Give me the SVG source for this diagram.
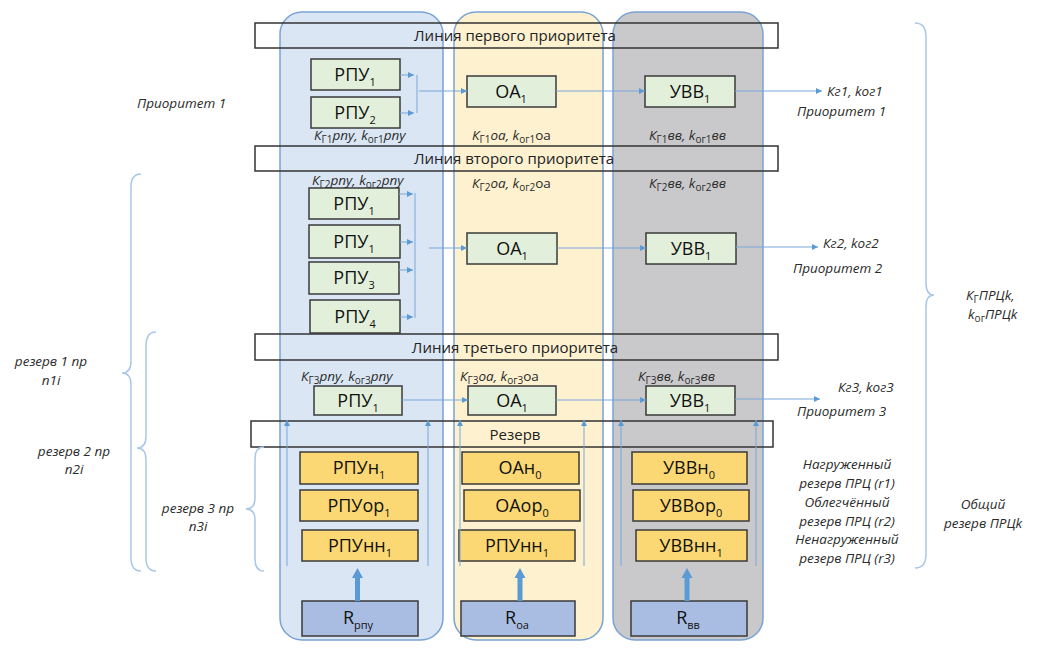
<svg xmlns="http://www.w3.org/2000/svg" width="1045" height="648" viewBox="0 0 1045 648">
  <defs>
    <marker id="ah" viewBox="0 0 10 10" refX="10" refY="5" markerWidth="7" markerHeight="6" markerUnits="userSpaceOnUse" orient="auto">
      <path d="M0,0 L10,5 L0,10 z" fill="#5b9bd5"/>
    </marker>
    <style>
      .col { stroke: #7aa3d6; stroke-width: 1.5; }
      .c-blue { fill: #dae6f4; }
      .c-yel { fill: #fdf1d0; }
      .c-gray { fill: #c9c8ca; }
      .bar { fill: none; stroke: #333; stroke-width: 1.5; }
      .bt { font-family: "Open Sans", "Liberation Sans", sans-serif; font-size: 15px; fill: #222; text-anchor: middle; }
      .box { stroke: #3a3a3a; stroke-width: 1.5; }
      .g { fill: #e2efda; }
      .o { fill: #fbd873; }
      .r { fill: #a9bde2; }
      .lb { font-family: "Open Sans", "Liberation Sans", sans-serif; font-size: 18px; fill: #111; text-anchor: middle; }
      .sub { font-size: 11px; }
      .it { font-family: "Open Sans", "Liberation Sans", sans-serif; font-style: italic; font-size: 13.5px; fill: #2b2b2b; }
      .itc { text-anchor: middle; }
      .k { font-family: "Open Sans", "Liberation Sans", sans-serif; font-style: italic; font-size: 13.5px; fill: #2b2b2b; }
      .ks { font-size: 10px; font-style: normal; }
      .up { font-style: normal; }
      .link { stroke: #7aa7db; stroke-width: 1; fill: none; }
      .brace { stroke: #a9c7e8; stroke-width: 1.5; fill: none; }
      .thick { fill: #5b9bd5; }
    </style>
  </defs>

  <!-- subsystem columns -->
  <g id="columns">
    <rect id="col-rpu" class="col c-blue" x="280" y="12" width="163" height="628" rx="22"/>
    <rect id="col-oa" class="col c-yel" x="454" y="12" width="149" height="628" rx="22"/>
    <rect id="col-vv" class="col c-gray" x="613" y="12" width="150" height="628" rx="22"/>
  </g>

  <!-- priority lines -->
  <g id="line1"><rect class="bar" x="255" y="23" width="523" height="25"/><text class="bt" x="515" y="41">Линия первого приоритета</text></g>
  <g id="line2"><rect class="bar" x="255" y="146" width="523" height="25"/><text class="bt" x="514" y="164">Линия второго приоритета</text></g>
  <g id="line3"><rect class="bar" x="255" y="334" width="523" height="26"/><text class="bt" x="515" y="353">Линия третьего приоритета</text></g>
  <g id="reserve-line"><rect class="bar" x="251" y="421" width="522" height="26"/><text class="bt" x="515" y="440">Резерв</text></g>

  <!-- priority 1 -->
  <g id="p1-rpu1"><rect class="box g" x="311" y="59" width="89" height="31"/><text class="lb" x="355" y="81">РПУ<tspan class="sub" dy="5">1</tspan></text></g>
  <g id="p1-rpu2"><rect class="box g" x="311" y="97" width="89" height="31"/><text class="lb" x="355" y="119">РПУ<tspan class="sub" dy="5">2</tspan></text></g>
  <g id="p1-oa1"><rect class="box g" x="467" y="76" width="89" height="31"/><text class="lb" x="511" y="98">ОА<tspan class="sub" dy="5">1</tspan></text></g>
  <g id="p1-vv1"><rect class="box g" x="645" y="76" width="90" height="31"/><text class="lb" x="690" y="98">УВВ<tspan class="sub" dy="5">1</tspan></text></g>

  <!-- priority 2 -->
  <g id="p2-rpu1a"><rect class="box g" x="309" y="188" width="90" height="31"/><text class="lb" x="354" y="210">РПУ<tspan class="sub" dy="5">1</tspan></text></g>
  <g id="p2-rpu1b"><rect class="box g" x="309" y="225" width="91" height="33"/><text class="lb" x="354" y="248">РПУ<tspan class="sub" dy="5">1</tspan></text></g>
  <g id="p2-rpu3"><rect class="box g" x="309" y="262" width="90" height="32"/><text class="lb" x="354" y="284">РПУ<tspan class="sub" dy="5">3</tspan></text></g>
  <g id="p2-rpu4"><rect class="box g" x="310" y="300" width="90" height="33"/><text class="lb" x="355" y="323">РПУ<tspan class="sub" dy="5">4</tspan></text></g>
  <g id="p2-oa1"><rect class="box g" x="467" y="233" width="90" height="31"/><text class="lb" x="512" y="255">ОА<tspan class="sub" dy="5">1</tspan></text></g>
  <g id="p2-vv1"><rect class="box g" x="646" y="233" width="90" height="31"/><text class="lb" x="691" y="255">УВВ<tspan class="sub" dy="5">1</tspan></text></g>

  <!-- priority 3 -->
  <g id="p3-rpu1"><rect class="box g" x="314" y="386" width="88" height="29"/><text class="lb" x="358" y="407">РПУ<tspan class="sub" dy="5">1</tspan></text></g>
  <g id="p3-oa1"><rect class="box g" x="468" y="386" width="88" height="29"/><text class="lb" x="512" y="407">ОА<tspan class="sub" dy="5">1</tspan></text></g>
  <g id="p3-vv1"><rect class="box g" x="646" y="386" width="89" height="29"/><text class="lb" x="690" y="407">УВВ<tspan class="sub" dy="5">1</tspan></text></g>

  <!-- reserve units -->
  <g id="rpu-n"><rect class="box o" x="300" y="452" width="118" height="32"/><text class="lb" x="359" y="474">РПУн<tspan class="sub" dy="5">1</tspan></text></g>
  <g id="rpu-or"><rect class="box o" x="300" y="490" width="118" height="31"/><text class="lb" x="359" y="512">РПУор<tspan class="sub" dy="5">1</tspan></text></g>
  <g id="rpu-nn"><rect class="box o" x="302" y="530" width="116" height="31"/><text class="lb" x="360" y="552">РПУнн<tspan class="sub" dy="5">1</tspan></text></g>
  <g id="oa-n"><rect class="box o" x="462" y="452" width="117" height="32"/><text class="lb" x="520" y="474">ОАн<tspan class="sub" dy="5">0</tspan></text></g>
  <g id="oa-or"><rect class="box o" x="464" y="490" width="116" height="31"/><text class="lb" x="522" y="512">ОАор<tspan class="sub" dy="5">0</tspan></text></g>
  <g id="oa-nn"><rect class="box o" x="459" y="530" width="116" height="31"/><text class="lb" x="517" y="552">РПУнн<tspan class="sub" dy="5">1</tspan></text></g>
  <g id="vv-n"><rect class="box o" x="632" y="452" width="115" height="32"/><text class="lb" x="689" y="474">УВВн<tspan class="sub" dy="5">0</tspan></text></g>
  <g id="vv-or"><rect class="box o" x="633" y="490" width="116" height="31"/><text class="lb" x="691" y="512">УВВор<tspan class="sub" dy="5">0</tspan></text></g>
  <g id="vv-nn"><rect class="box o" x="636" y="530" width="111" height="31"/><text class="lb" x="691" y="552">УВВнн<tspan class="sub" dy="5">1</tspan></text></g>

  <!-- resource pools -->
  <g id="r-rpu"><rect class="box r" x="302" y="601" width="116" height="35"/><text class="lb" x="358" y="624">R<tspan class="sub" dy="5">рпу</tspan></text></g>
  <g id="r-oa"><rect class="box r" x="461" y="601" width="114" height="35"/><text class="lb" x="517" y="624">R<tspan class="sub" dy="5">оа</tspan></text></g>
  <g id="r-vv"><rect class="box r" x="631" y="601" width="116" height="35"/><text class="lb" x="688" y="624">R<tspan class="sub" dy="5">вв</tspan></text></g>

  <!-- coefficient labels -->
  <g id="coef">
    <text class="k" x="314" y="140">К<tspan class="ks" dy="3">Г1</tspan><tspan dy="-3">рпу, k</tspan><tspan class="ks" dy="3">ог1</tspan><tspan dy="-3">рпу</tspan></text>
    <text class="k" x="472" y="140">К<tspan class="ks" dy="3">Г1</tspan><tspan dy="-3">оа, k</tspan><tspan class="ks" dy="3">ог1</tspan><tspan class="up" dy="-3">оа</tspan></text>
    <text class="k" x="649" y="140">К<tspan class="ks" dy="3">Г1</tspan><tspan dy="-3">вв, k</tspan><tspan class="ks" dy="3">ог1</tspan><tspan dy="-3">вв</tspan></text>
    <text class="k" x="312" y="185">К<tspan class="ks" dy="3">Г2</tspan><tspan dy="-3">рпу, k</tspan><tspan class="ks" dy="3">ог2</tspan><tspan dy="-3">рпу</tspan></text>
    <text class="k" x="472" y="188">К<tspan class="ks" dy="3">Г2</tspan><tspan dy="-3">оа, k</tspan><tspan class="ks" dy="3">ог2</tspan><tspan class="up" dy="-3">оа</tspan></text>
    <text class="k" x="649" y="188">К<tspan class="ks" dy="3">Г2</tspan><tspan dy="-3">вв, k</tspan><tspan class="ks" dy="3">ог2</tspan><tspan dy="-3">вв</tspan></text>
    <text class="k" x="301" y="381">К<tspan class="ks" dy="3">Г3</tspan><tspan dy="-3">рпу, k</tspan><tspan class="ks" dy="3">ог3</tspan><tspan dy="-3">рпу</tspan></text>
    <text class="k" x="460" y="381">К<tspan class="ks" dy="3">Г3</tspan><tspan dy="-3">оа, k</tspan><tspan class="ks" dy="3">ог3</tspan><tspan class="up" dy="-3">оа</tspan></text>
    <text class="k" x="638" y="381">К<tspan class="ks" dy="3">Г3</tspan><tspan dy="-3">вв, k</tspan><tspan class="ks" dy="3">ог3</tspan><tspan dy="-3">вв</tspan></text>
  </g>

  <!-- connectors -->
  <g id="connectors">
    <!-- priority 1 -->
    <line class="link" x1="400" y1="75" x2="414" y2="75" marker-end="url(#ah)"/>
    <line class="link" x1="400" y1="113" x2="414" y2="113" marker-end="url(#ah)"/>
    <line class="link" x1="417" y1="75" x2="417" y2="113"/>
    <line class="link" x1="419" y1="91" x2="467" y2="91" marker-end="url(#ah)"/>
    <line class="link" x1="556" y1="91" x2="645" y2="91" marker-end="url(#ah)"/>
    <line class="link" x1="735" y1="91" x2="822" y2="91" marker-end="url(#ah)"/>
    <!-- priority 2 -->
    <line class="link" x1="399" y1="194" x2="413" y2="194" marker-end="url(#ah)"/>
    <line class="link" x1="400" y1="242" x2="413" y2="242" marker-end="url(#ah)"/>
    <line class="link" x1="399" y1="270" x2="413" y2="270" marker-end="url(#ah)"/>
    <line class="link" x1="400" y1="317" x2="413" y2="317" marker-end="url(#ah)"/>
    <line class="link" x1="415" y1="193" x2="415" y2="318"/>
    <line class="link" x1="429" y1="248" x2="467" y2="248" marker-end="url(#ah)"/>
    <line class="link" x1="557" y1="248" x2="646" y2="248" marker-end="url(#ah)"/>
    <line class="link" x1="736" y1="247" x2="818" y2="247" marker-end="url(#ah)"/>
    <!-- priority 3 -->
    <line class="link" x1="402" y1="400" x2="468" y2="400" marker-end="url(#ah)"/>
    <line class="link" x1="556" y1="400" x2="646" y2="400" marker-end="url(#ah)"/>
    <line class="link" x1="735" y1="399" x2="820" y2="399" marker-end="url(#ah)"/>
    <!-- reserve feed lines -->
    <line class="link" x1="287" y1="566" x2="287" y2="420" marker-end="url(#ah)"/>
    <line class="link" x1="428" y1="566" x2="428" y2="420" marker-end="url(#ah)"/>
    <line class="link" x1="460" y1="566" x2="460" y2="420" marker-end="url(#ah)"/>
    <line class="link" x1="584" y1="566" x2="584" y2="420" marker-end="url(#ah)"/>
    <line class="link" x1="621" y1="566" x2="621" y2="420" marker-end="url(#ah)"/>
    <line class="link" x1="756" y1="566" x2="756" y2="420" marker-end="url(#ah)"/>
    <!-- pool supply arrows -->
    <path class="thick" d="M355,601 V578 H352 L357.5,568 L363,578 H360 V601 Z"/>
    <path class="thick" d="M517.5,601 V578 H514.5 L520,568 L525.5,578 H522.5 V601 Z"/>
    <path class="thick" d="M684.5,601 V578 H681.5 L687,568 L692.5,578 H689.5 V601 Z"/>
  </g>

  <!-- braces -->
  <g id="braces">
    <path class="brace" d="M141,174 Q131,174 131,187 L131,361 Q131,373 122,373 Q131,373 131,385 L131,558 Q131,571 141,571"/>
    <path class="brace" d="M156,332 Q146,332 146,346 L146,436 Q146,448 137,448 Q146,448 146,460 L146,558 Q146,571 156,571"/>
    <path class="brace" d="M264,447 Q255,447 255,459 L255,498 Q255,509 246,509 Q255,509 255,520 L255,559 Q255,571 264,571"/>
    <path class="brace" d="M915,23 Q926,23 926,37 L926,283 Q926,295 934,295 Q926,295 926,307 L926,554 Q926,568 915,568"/>
  </g>

  <!-- side labels -->
  <g id="labels">
    <text class="it" x="137" y="108">Приоритет 1</text>
    <text class="it" x="827" y="96">Кг1, kог1</text>
    <text class="it" x="797" y="116">Приоритет 1</text>
    <text class="it" x="823" y="248">Кг2, kог2</text>
    <text class="it" x="793" y="273">Приоритет  2</text>
    <text class="it" x="838" y="392">Кг3, kог3</text>
    <text class="it" x="797" y="416">Приоритет  3</text>
    <text class="it" x="966" y="300">К<tspan class="ks" dy="3">Г</tspan><tspan dy="-3">ПРЦk,</tspan></text>
    <text class="it" x="968" y="319">k<tspan class="ks" dy="3">ог</tspan><tspan dy="-3">ПРЦk</tspan></text>
    <text class="it itc" x="51" y="366">резерв 1 пр</text>
    <text class="it itc" x="51" y="385">n1i</text>
    <text class="it itc" x="74" y="456">резерв 2 пр</text>
    <text class="it itc" x="74" y="474">n2i</text>
    <text class="it itc" x="198" y="513">резерв 3 пр</text>
    <text class="it itc" x="198" y="531">n3i</text>
    <text class="it itc" x="847" y="469">Нагруженный</text>
    <text class="it itc" x="847" y="488">резерв ПРЦ (r1)</text>
    <text class="it itc" x="847" y="507">Облегчённый</text>
    <text class="it itc" x="847" y="526">резерв ПРЦ (r2)</text>
    <text class="it itc" x="847" y="544">Ненагруженный</text>
    <text class="it itc" x="847" y="563">резерв ПРЦ (r3)</text>
    <text class="it itc" x="983" y="509">Общий</text>
    <text class="it itc" x="983" y="528">резерв ПРЦk</text>
  </g>
</svg>
